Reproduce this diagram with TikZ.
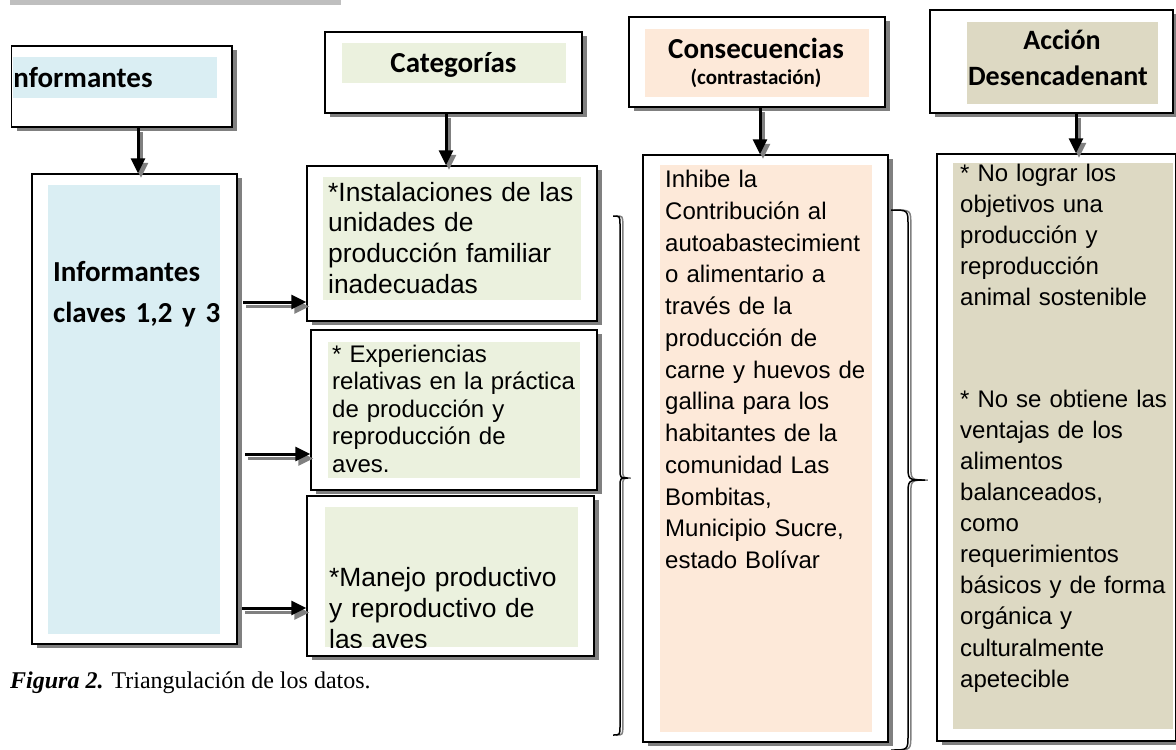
\documentclass[tikz,border=0pt]{standalone}
\usepackage{fontspec}
\setmainfont{Liberation Serif}
\newfontfamily\carlito{Carlito}
\newfontfamily\arialf{Liberation Sans}
\usetikzlibrary{arrows.meta,shadows}
\definecolor{shgray}{HTML}{808080}
\definecolor{lblue}{HTML}{DAEEF3}
\definecolor{lgreen}{HTML}{EBF1DE}
\definecolor{lpeach}{HTML}{FDE9D9}
\definecolor{ltan}{HTML}{DDD9C3}
\definecolor{bargray}{HTML}{BFBFBF}
\begin{document}
\begin{tikzpicture}[x=1pt,y=-1pt,
  box/.style={draw=black, fill=white, line width=1.5pt, inner sep=0pt,
    general shadow={fill=shgray, shadow xshift=5pt, shadow yshift=-4pt}},
  arr/.style={line width=3pt, -{Triangle[length=15pt,width=14pt]}},
  arrsh/.style={arr, draw=shgray, transform canvas={shift={(3pt,-4.5pt)}}},
  br/.style={line width=1.5pt, draw=black},
  brsh/.style={line width=1.5pt, draw=shgray, transform canvas={shift={(2.8pt,0pt)}}},
  hdr/.style={inner sep=0pt, anchor=base, font=\carlito\bfseries\fontsize{29}{35}\selectfont},
  txt/.style={inner sep=0pt, anchor=north west, align=left, text width=300pt}
]
\useasboundingbox (0,0) rectangle (1176,750);
\fill[white] (0,0) rectangle (1176,750);
% top grey bar
\fill[bargray] (10,0) rectangle (341,5);

% boxes
\node[box, minimum width=220.5pt, minimum height=81pt] (H1) at (121.75,86.5) {};
\node[box, minimum width=257pt, minimum height=81pt] (H2) at (453.5,72.5) {};
\node[box, minimum width=256pt, minimum height=90pt] (H3) at (757,62) {};
\node[box, minimum width=243pt, minimum height=103pt] (H4) at (1051.5,61.5) {};
\node[box, minimum width=205pt, minimum height=470pt] (B1) at (134.5,409) {};
\node[box, minimum width=290pt, minimum height=155pt] (C1) at (452,243.5) {};
\node[box, minimum width=286pt, minimum height=160pt] (C2) at (454,410) {};
\node[box, minimum width=287pt, minimum height=160pt] (C3) at (450.5,576) {};
\node[box, minimum width=245pt, minimum height=587pt] (D1) at (765.5,448.5) {};
\node[box, minimum width=239pt, minimum height=587pt] (D2) at (1056.5,447.5) {};

% inner fills
\fill[lblue] (12.5,57) rectangle (217,98);
\fill[lgreen] (342,43) rectangle (566,83);
\fill[lpeach] (645,29) rectangle (869,97);
\fill[ltan] (967,22) rectangle (1158,104);
\fill[lblue] (48,185) rectangle (220,634);
\fill[lgreen] (323,177) rectangle (581,300);
\fill[lgreen] (328,342) rectangle (580,478);
\fill[lgreen] (325,507) rectangle (578,647);
\fill[lpeach] (660,165) rectangle (872,732);
\fill[ltan] (953,163) rectangle (1173,729);

% header texts
\begin{scope}
  \clip (12.5,40) rectangle (230,130);
  \node[hdr, anchor=base west] (tH1) at (5.5,87) {Informantes};
\end{scope}
\node[hdr] (tH2) at (453.5,72) {Categorías};
\node[hdr] (tH3a) at (756,58) {Consecuencias};
\node[hdr, font=\carlito\bfseries\fontsize{21}{25}\selectfont] (tH3b) at (756,84) {(contrastación)};
\node[hdr, font=\carlito\bfseries\fontsize{28}{34}\selectfont] (tH4a) at (1062,49) {Acción};
\node[hdr, font=\carlito\bfseries\fontsize{28}{34}\selectfont] (tH4b) at (1058,85) {Desencadenant};

% body texts
\node[txt, font=\carlito\bfseries\fontsize{29}{41}\selectfont] (tB1) at (53,257)
  {\rule{0pt}{24pt}Informantes\\claves 1,2 y 3};
\node[txt, font=\arialf\fontsize{26.4}{30.7}\selectfont] (tC1) at (328,180)
  {\rule{0pt}{21pt}*Instalaciones de las\\unidades de\\producción familiar\\inadecuadas};
\node[txt, font=\arialf\fontsize{24}{27.5}\selectfont] (tC2) at (332,343)
  {\rule{0pt}{19pt}* Experiencias\\relativas en la práctica\\de producción y\\reproducción de\\aves.};
\begin{scope}
  \clip (325,507) rectangle (578,647);
  \node[txt, font=\arialf\fontsize{26.4}{31}\selectfont] (tC3) at (329,565)
    {\rule{0pt}{21pt}*Manejo productivo\\y reproductivo de\\las aves};
\end{scope}
\node[txt, font=\arialf\fontsize{24}{31.75}\selectfont] (tD1) at (665,168.5)
  {\rule{0pt}{19pt}Inhibe la\\Contribución al\\autoabastecimient\\o alimentario a\\través de la\\producción de\\carne y huevos de\\gallina para los\\habitantes de la\\comunidad Las\\Bombitas,\\Municipio Sucre,\\estado Bolívar};
\node[txt, font=\arialf\fontsize{24}{31}\selectfont] (tD2a) at (960,162.5)
  {\rule{0pt}{19pt}* No lograr los\\objetivos una\\producción y\\reproducción\\animal sostenible};
\node[txt, font=\arialf\fontsize{24}{31.1}\selectfont] (tD2b) at (960,388)
  {\rule{0pt}{19pt}* No se obtiene las\\ventajas de los\\alimentos\\balanceados,\\como\\requerimientos\\básicos y de forma\\orgánica y\\culturalmente\\apetecible};

% caption
\node[inner sep=0pt, anchor=base west, font=\fontsize{24}{28}\selectfont] (cap) at (10,688)
  {\textbf{\textit{Figura 2.}} Triangulación de los datos.};

% vertical arrows
\coordinate (a1) at (138,0);
\coordinate (a2) at (446,0);
\coordinate (a3) at (760,0);
\coordinate (a4) at (1076,0);
\draw[arrsh] (a1 |- H1.south) -- (a1 |- B1.north);
\draw[arr] (a1 |- H1.south) -- (a1 |- B1.north);
\draw[arrsh] (a2 |- H2.south) -- (a2 |- C1.north);
\draw[arr] (a2 |- H2.south) -- (a2 |- C1.north);
\draw[arrsh] (a3 |- H3.south) -- (a3 |- D1.north);
\draw[arr] (a3 |- H3.south) -- (a3 |- D1.north);
\draw[arrsh] (a4 |- H4.south) -- (a4 |- D2.north);
\draw[arr] (a4 |- H4.south) -- (a4 |- D2.north);

% horizontal arrows
\coordinate (s1) at (243,302);
\coordinate (s2) at (245,454);
\coordinate (s3) at (242,608);
\draw[arrsh] (s1) -- (s1 -| C1.west);
\draw[arr] (s1) -- (s1 -| C1.west);
\draw[arrsh] (s2) -- (s2 -| C2.west);
\draw[arr] (s2) -- (s2 -| C2.west);
\draw[arrsh] (s3) -- (s3 -| C3.west);
\draw[arr] (s3) -- (s3 -| C3.west);

% braces
\foreach \st in {brsh,br}{
  \draw[\st] (613,216) .. controls (620,216) .. (620,225) -- (620,469)
    .. controls (620,478) .. (628,478) .. controls (620,478) .. (620,487)
    -- (620,726) .. controls (620,735) .. (613,735);
  \draw[\st] (891,210) .. controls (908,210) .. (908,225) -- (908,465)
    .. controls (908,480) .. (925,480) .. controls (908,480) .. (908,495)
    -- (908,735) .. controls (908,750) .. (891,750);
}
\end{tikzpicture}
\end{document}
